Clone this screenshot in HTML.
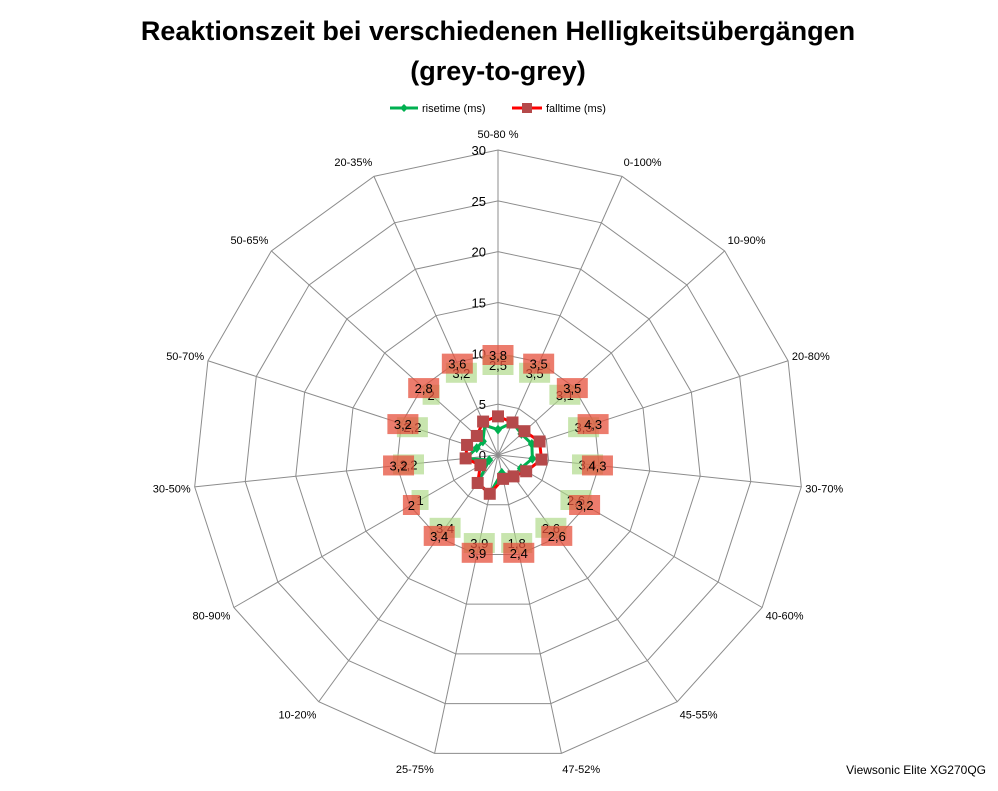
<!DOCTYPE html>
<html><head><meta charset="utf-8"><style>
body{margin:0;background:#fff;font-family:"Liberation Sans",sans-serif;}
svg text{font-family:"Liberation Sans",sans-serif;}
</style></head><body>
<svg id="chart" width="998" height="786" xmlns="http://www.w3.org/2000/svg">
<text x="498" y="40" text-anchor="middle" font-size="27" font-weight="bold">Reaktionszeit bei verschiedenen Helligkeitsübergängen</text>
<text x="498" y="80" text-anchor="middle" font-size="27" font-weight="bold">(grey-to-grey)</text>
<g>
<g><line x1="390" y1="108" x2="418" y2="108" stroke="#00b050" stroke-width="3"/><path d="M404 104 L408 108 L404 112 L400 108Z" fill="#00b050"/><text x="422" y="112" font-size="11">risetime (ms)</text></g>
<g><line x1="512" y1="108" x2="542" y2="108" stroke="#ff0000" stroke-width="3"/><rect x="522" y="103" width="10" height="10" fill="#b5494a"/><text x="546" y="112" font-size="11">falltime (ms)</text></g>
</g>
<g id="grid"></g><g id="series"></g><g id="labels"></g>
<text x="986" y="774" text-anchor="end" font-size="12">Viewsonic Elite XG270QG</text>
</svg>
<script>
const categories=["50-80 %","0-100%","10-90%","20-80%","30-70%","40-60%","45-55%","47-52%","25-75%","10-20%","80-90%","30-50%","50-70%","50-65%","20-35%"];
const risetime=[2.5,3.5,3.1,3.5,3.4,2.6,2.6,1.8,3.9,3.4,1,3.2,2.2,2,3.2];
const falltime=[3.8,3.5,3.5,4.3,4.3,3.2,2.6,2.4,3.9,3.4,2,3.2,3.2,2.8,3.6];
const ticks=[0,5,10,15,20,25,30];
const NS="http://www.w3.org/2000/svg";
const cx=498,cy=455,R=305,maxV=30,n=categories.length;
function ang(i){return i*2*Math.PI/n;}
function pt(i,v){const a=ang(i),r=v/maxV*R;return [cx+r*Math.sin(a),cy-r*Math.cos(a)];}
function mk(tag,attrs,parent){const e=document.createElementNS(NS,tag);for(const k in attrs)e.setAttribute(k,attrs[k]);parent.appendChild(e);return e;}
const grid=document.getElementById('grid'),series=document.getElementById('series'),labels=document.getElementById('labels');
ticks.forEach((t,k)=>{if(t===0)return;const p=categories.map((c,i)=>pt(i,t).join(',')).join(' ');
const e=mk('polygon',{points:p,fill:'none',stroke:'#8c8c8c','stroke-width':1},grid);

});
categories.forEach((c,i)=>{const [x,y]=pt(i,maxV);
const l=mk('line',{x1:cx,y1:cy,x2:x,y2:y,stroke:'#8c8c8c','stroke-width':1},grid);


const a=ang(i),s=Math.sin(a),co=Math.cos(a);
let tx=cx+(R+12)*s,ty=cy-(R+16)*co+4,anchor='middle';
if(s>0.2){anchor='start';tx=cx+(R+4)*s;}else if(s<-0.2){anchor='end';tx=cx+(R+4)*s;}
const t=mk('text',{x:tx,y:ty,'text-anchor':anchor,'font-size':11},grid);t.textContent=c;

});
ticks.forEach(t=>{const [x,y]=pt(0,t);const e=mk('text',{x:cx-12,y:y+5,'text-anchor':'end','font-size':13},grid);e.textContent=t;

});
function drawSeries(vals,color,name,marker){
const p=vals.map((v,i)=>pt(i,v).join(','));
const pl=mk('polygon',{points:p.join(' '),fill:'none',stroke:color,'stroke-width':3,'stroke-linejoin':'round'},series);


vals.forEach((v,i)=>{const [x,y]=pt(i,v);let m;
if(marker==='sq'){m=mk('rect',{x:x-6,y:y-6,width:12,height:12,fill:'#b5494a'},series);}
else{m=mk('path',{d:`M${x} ${y-5}L${x+4} ${y}L${x} ${y+5}L${x-4} ${y}Z`,fill:'#00b050'},series);}

});}
drawSeries(risetime,'#00b050','risetime','dia');
drawSeries(falltime,'#ff0000','falltime','sq');
function drawLabels(vals,r,bg,name){vals.forEach((v,i)=>{const a=ang(i);const x=cx+r*Math.sin(a),y=cy-r*Math.cos(a);
const txt=String(v).replace('.',',');const w=txt.length*7+10;
const b=mk('rect',{x:x-w/2,y:y-10,width:w,height:20,fill:bg},labels);


const t=mk('text',{x:x,y:y+5,'text-anchor':'middle','font-size':13},labels);t.textContent=txt;

});}
drawLabels(risetime,90,'rgba(170,215,130,0.65)','risetime');
drawLabels(falltime,100,'rgba(230,80,60,0.75)','falltime');
</script>
</body></html>
